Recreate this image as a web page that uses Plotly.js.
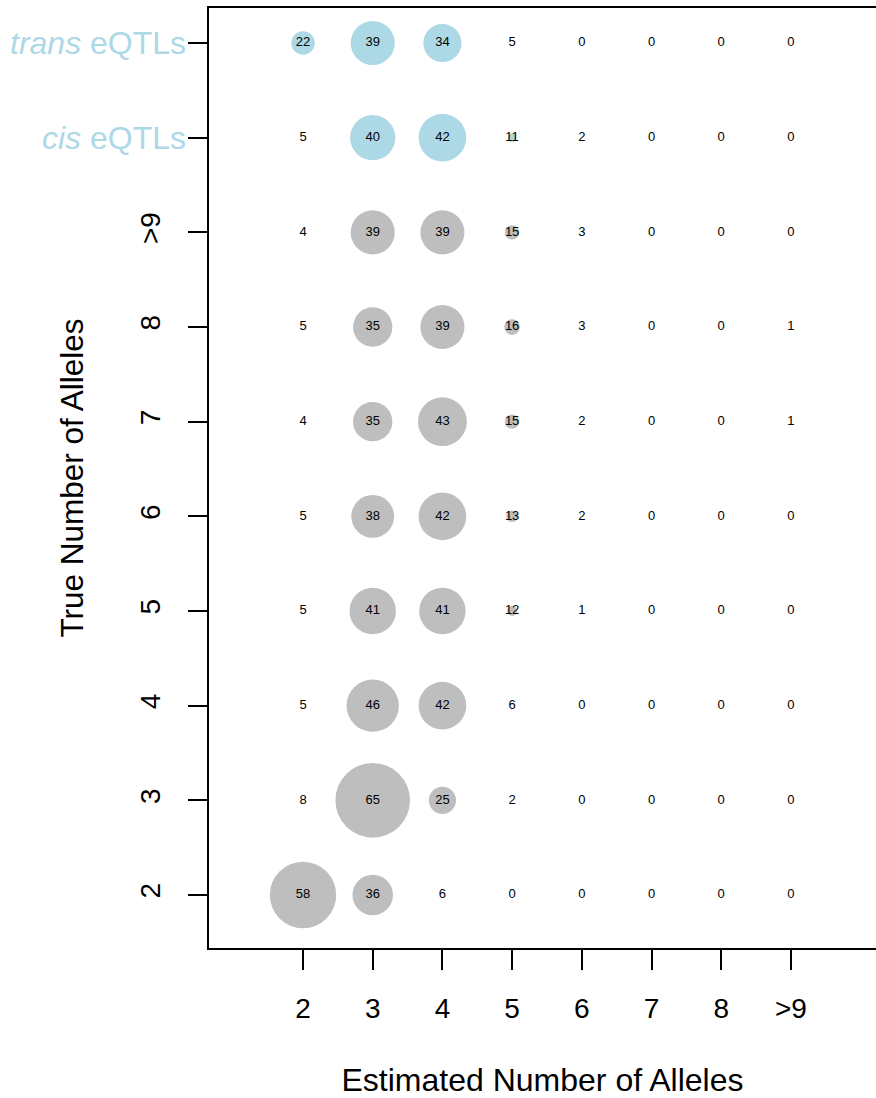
<!DOCTYPE html>
<html>
<head>
<meta charset="utf-8">
<script src="https://cdn.plot.ly/plotly-3.0.1.min.js"></script>
<style>html,body{margin:0;padding:0;background:#fff;}</style>
</head>
<body>
<div id="chart" style="width:876px;height:1098px;"></div>
<script>
// Column categories: estimated number of alleles
const estLabels = ['2', '3', '4', '5', '6', '7', '8', '>9'];
// Row categories: true number of alleles (simulations), bottom to top
const trueLabels = ['2', '3', '4', '5', '6', '7', '8', '>9'];
// Counts per true-allele row (columns follow estLabels)
const simCounts = [
  [58, 36, 6, 0, 0, 0, 0, 0],   // true 2
  [8, 65, 25, 2, 0, 0, 0, 0],   // true 3
  [5, 46, 42, 6, 0, 0, 0, 0],   // true 4
  [5, 41, 41, 12, 1, 0, 0, 0],  // true 5
  [5, 38, 42, 13, 2, 0, 0, 0],  // true 6
  [4, 35, 43, 15, 2, 0, 0, 1],  // true 7
  [5, 35, 39, 16, 3, 0, 0, 1],  // true 8
  [4, 39, 39, 15, 3, 0, 0, 0]   // true >9
];
// eQTL rows
const eqtlLabels = ['<i>cis</i> eQTLs', '<i>trans</i> eQTLs'];
const cisCounts = [5, 40, 42, 11, 2, 0, 0, 0];
const transCounts = [22, 39, 34, 5, 0, 0, 0, 0];

const FONT = '"Liberation Sans", Arial, Helvetica, sans-serif';
function bubble(v) { return Math.sqrt(Math.max(0, 1.34 * v * v - 95)); }

function buildTrace(rows, rowStart, color) {
  const x = [], y = [], t = [], s = [];
  rows.forEach((row, ri) => {
    row.forEach((v, ci) => {
      x.push(ci + 1); y.push(rowStart + ri); t.push(String(v)); s.push(bubble(v));
    });
  });
  return {
    type: 'scatter', mode: 'markers+text', x: x, y: y, text: t,
    textposition: 'middle center',
    textfont: {family: FONT, size: 13, color: '#000'},
    marker: {size: s, sizemode: 'diameter', color: color, line: {width: 0}, opacity: 1},
    hoverinfo: 'none', cliponaxis: false
  };
}

const nSim = simCounts.length;
const traces = [
  buildTrace(simCounts, 1, '#BEBEBE'),
  buildTrace([cisCounts, transCounts], nSim + 1, '#ADD8E6')
];

const yTickVals = [], yTickText = [];
trueLabels.forEach((l, i) => { yTickVals.push(i + 1); yTickText.push(l); });
eqtlLabels.forEach((l, i) => { yTickVals.push(nSim + 1 + i); yTickText.push(''); });

const annotations = eqtlLabels.map((l, i) => ({
  text: l, x: 0, xref: 'paper', xanchor: 'right', xshift: -21,
  y: nSim + 1 + i, yref: 'y', yanchor: 'middle', showarrow: false,
  font: {family: FONT, size: 32, color: '#ADD8E6'}
}));

const layout = {
  width: 876, height: 1098,
  margin: {l: 209, r: 0, t: 8, b: 150},
  paper_bgcolor: '#fff', plot_bgcolor: '#fff',
  showlegend: false,
  font: {family: FONT, color: '#000'},
  xaxis: {
    range: [-0.349, 9.221],
    tickvals: estLabels.map((_, i) => i + 1), ticktext: estLabels,
    ticks: 'outside', ticklen: 20, tickwidth: 2, tickcolor: '#000',
    showline: true, linewidth: 2, linecolor: '#000', mirror: true,
    showgrid: false, zeroline: false,
    tickfont: {family: FONT, size: 28, color: '#000'},
    ticklabelstandoff: 14,
    title: {text: 'Estimated Number of Alleles', font: {family: FONT, size: 32, color: '#000'}, standoff: 46},
    automargin: false, fixedrange: true
  },
  yaxis: {
    range: [0.44, 10.37],
    tickvals: yTickVals, ticktext: yTickText, tickangle: -90,
    ticks: 'outside', ticklen: 19, tickwidth: 2, tickcolor: '#000',
    showline: true, linewidth: 2, linecolor: '#000', mirror: false,
    showgrid: false, zeroline: false,
    tickfont: {family: FONT, size: 28, color: '#000'},
    ticklabelstandoff: 17,
    title: {text: 'True Number of Alleles', font: {family: FONT, size: 31.5, color: '#000'}, standoff: 42},
    automargin: false, fixedrange: true
  },
  annotations: annotations
};

Plotly.newPlot('chart', traces, layout, {displayModeBar: false, staticPlot: true});
</script>
</body>
</html>
